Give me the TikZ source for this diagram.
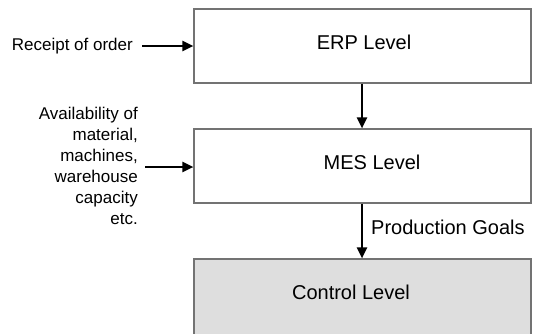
\documentclass[tikz,border=0pt]{standalone}
\usepackage{fontspec}
\setmainfont{Liberation Sans}
\usetikzlibrary{arrows.meta}
\begin{document}
\begin{tikzpicture}[x=1pt,y=-1pt,
  levelbox/.style={draw=black!55,line width=1.1pt,rectangle,minimum width=337pt,minimum height=74pt,inner sep=0pt},
  boxtext/.style={font=\fontsize{20}{24}\selectfont,inner sep=0pt},
  sidetext/.style={font=\fontsize{17}{21}\selectfont,inner sep=0pt,align=right},
  flow/.style={line width=2.4pt,-{Triangle[length=11pt,width=10pt]}}]
\useasboundingbox (0,0) rectangle (536,333);
\clip (0,0) rectangle (536,333);
\node[levelbox] (erp) at (362.5,46) {};
\node[levelbox] (mes) at (362.5,166) {};
\node[levelbox,fill=black!13,minimum height=84pt] (ctrl) at (362.5,301) {};
\node[boxtext] (erpt) at (364,42) {ERP Level};
\node[boxtext] (mest) at (372,162) {MES Level};
\node[boxtext] (ctrlt) at (351,292) {Control Level};
\node[sidetext,anchor=east] (rcpt) at (133,46) {Receipt of order};
\node[sidetext,anchor=east] (avail) at (138,166) {Availability of\\material,\\machines,\\warehouse\\capacity\\etc.};
\node[boxtext,anchor=west] (goals) at (371,227) {Production Goals};
\draw[flow] (erp.south -| 362,0) -- (mes.north -| 362,0);
\draw[flow] (mes.south -| 362,0) -- (ctrl.north -| 362,0);
\draw[flow] ([xshift=9pt]rcpt.east) -- (erp.west |- rcpt.east);
\draw[flow] ([xshift=7pt]avail.east |- 0,167) -- (mes.west |- 0,167);
\end{tikzpicture}
\end{document}
